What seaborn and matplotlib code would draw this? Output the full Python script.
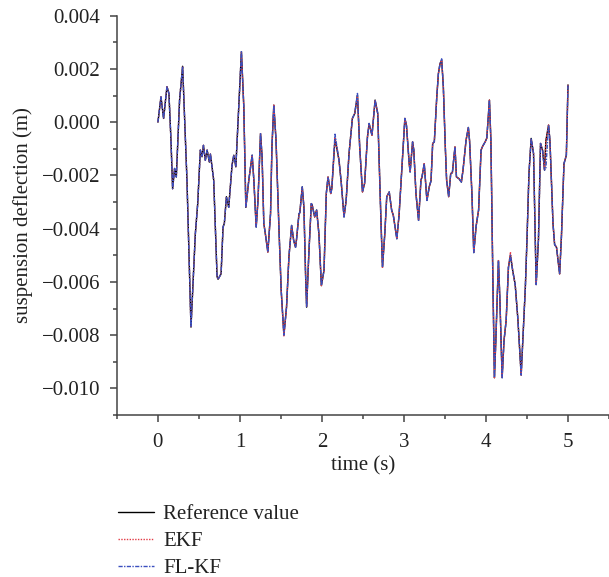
import matplotlib
matplotlib.use("Agg")
import matplotlib.pyplot as plt
from matplotlib.ticker import MultipleLocator, FuncFormatter
import seaborn as sns
import pandas as pd

# time samples (s)
time_s = [
    0.000, 0.037, 0.069, 0.110, 0.134, 0.159, 0.179, 0.203, 0.224, 0.264,
    0.301, 0.354, 0.403, 0.456, 0.485, 0.517, 0.538, 0.555, 0.578, 0.600,
    0.627, 0.640, 0.680, 0.721, 0.733, 0.770, 0.794, 0.810, 0.835, 0.863,
    0.904, 0.925, 0.950, 0.986, 1.018, 1.047, 1.072, 1.108, 1.149, 1.170,
    1.198, 1.220, 1.251, 1.270, 1.291, 1.310, 1.340, 1.373, 1.390, 1.413,
    1.440, 1.475, 1.503, 1.536, 1.568, 1.597, 1.630, 1.655, 1.678, 1.690,
    1.720, 1.730, 1.760, 1.780, 1.800, 1.813, 1.840, 1.870, 1.880, 1.911,
    1.935, 1.963, 1.993, 2.025, 2.053, 2.074, 2.107, 2.120, 2.159, 2.208,
    2.236, 2.269, 2.295, 2.330, 2.371, 2.400, 2.433, 2.460, 2.494, 2.520,
    2.555, 2.575, 2.610, 2.648, 2.680, 2.718, 2.738, 2.766, 2.790, 2.820,
    2.850, 2.870, 2.913, 2.940, 2.983, 3.011, 3.030, 3.064, 3.075, 3.105,
    3.120, 3.146, 3.178, 3.207, 3.220, 3.247, 3.280, 3.308, 3.330, 3.350,
    3.370, 3.400, 3.420, 3.440, 3.460, 3.480, 3.504, 3.520, 3.545, 3.570,
    3.590, 3.622, 3.640, 3.670, 3.700, 3.720, 3.757, 3.785, 3.800, 3.830,
    3.851, 3.880, 3.910, 3.940, 3.960, 3.990, 4.010, 4.042, 4.060, 4.083,
    4.103, 4.120, 4.152, 4.170, 4.197, 4.220, 4.246, 4.274, 4.298, 4.327,
    4.356, 4.389, 4.429, 4.457, 4.480, 4.500, 4.524, 4.551, 4.580, 4.612,
    4.640, 4.665, 4.690, 4.714, 4.730, 4.763, 4.780, 4.817, 4.837, 4.860,
    4.898, 4.920, 4.951, 4.980, 5.000,
]

# true suspension deflection (m)
reference_value = [
    0.00000, 0.00095, 0.00014, 0.00133, 0.00108, -0.00068, -0.00250, -0.00174, -0.00206, 0.00083,
    0.00210, -0.00218, -0.00770, -0.00420, -0.00306, -0.00105, -0.00130, -0.00087, -0.00143, -0.00105,
    -0.00150, -0.00120, -0.00218, -0.00580, -0.00590, -0.00570, -0.00394, -0.00380, -0.00280, -0.00320,
    -0.00160, -0.00124, -0.00168, 0.00060, 0.00265, 0.00058, -0.00320, -0.00218, -0.00124, -0.00220,
    -0.00394, -0.00294, -0.00043, -0.00130, -0.00380, -0.00420, -0.00488, -0.00344, -0.00093, 0.00064,
    -0.00068, -0.00394, -0.00632, -0.00800, -0.00695, -0.00507, -0.00388, -0.00444, -0.00470, -0.00440,
    -0.00344, -0.00340, -0.00243, -0.00320, -0.00570, -0.00695, -0.00494, -0.00306, -0.00310, -0.00356,
    -0.00330, -0.00420, -0.00614, -0.00557, -0.00268, -0.00206, -0.00268, -0.00250, -0.00061, -0.00143,
    -0.00230, -0.00356, -0.00294, -0.00118, 0.00014, 0.00033, 0.00102, -0.00093, -0.00262, -0.00230,
    -0.00055, -0.00005, -0.00049, 0.00083, 0.00033, -0.00356, -0.00545, -0.00420, -0.00280, -0.00262,
    -0.00331, -0.00350, -0.00438, -0.00350, -0.00130, 0.00014, -0.00011, -0.00156, -0.00187, -0.00074,
    -0.00105, -0.00268, -0.00369, -0.00218, -0.00206, -0.00156, -0.00294, -0.00243, -0.00220, -0.00080,
    -0.00074, 0.00095, 0.00183, 0.00220, 0.00233, 0.00133, -0.00093, -0.00218, -0.00280, -0.00193,
    -0.00190, -0.00093, -0.00206, -0.00212, -0.00225, -0.00180, -0.00068, -0.00020, -0.00070, -0.00280,
    -0.00490, -0.00390, -0.00330, -0.00105, -0.00090, -0.00074, -0.00060, 0.00083, -0.00070, -0.00570,
    -0.00960, -0.00820, -0.00520, -0.00670, -0.00960, -0.00820, -0.00745, -0.00545, -0.00500, -0.00560,
    -0.00610, -0.00740, -0.00950, -0.00770, -0.00620, -0.00440, -0.00193, -0.00061, -0.00118, -0.00610,
    -0.00440, -0.00080, -0.00105, -0.00180, -0.00070, -0.00011, -0.00070, -0.00380, -0.00460, -0.00470,
    -0.00570, -0.00430, -0.00156, -0.00124, 0.00140,
]

# extended Kalman filter estimate (m)
ekf = list(reference_value)
ekf[34] = 0.00262
ekf[53] = -0.00805
ekf[86] = 0.00098
ekf[158] = -0.00488

# fuzzy-logic Kalman filter estimate (m)
fl_kf = list(reference_value)
fl_kf[78] = -0.00045
fl_kf[86] = 0.00108
fl_kf[124] = 0.00238
fl_kf[174] = -0.00175

sns.set_theme(style="ticks")
plt.rcParams["font.family"] = ["Liberation Serif", "DejaVu Serif"]

FS = 15
INK = "#222222"
AXC = "#444444"

fig = plt.figure(figsize=(6.09, 5.77), dpi=100)
ax = fig.add_axes([0.192, 0.2808, 0.808, 0.692])

df = pd.DataFrame({"t": time_s, "ref": reference_value, "ekf": ekf, "flkf": fl_kf})

sns.lineplot(data=df, x="t", y="ref", ax=ax, color="black", linewidth=1.0,
             label="Reference value", sort=False)
sns.lineplot(data=df, x="t", y="ekf", ax=ax, color="#e23a45", linewidth=1.0,
             linestyle=(0, (1, 1)), label="EKF", sort=False)
sns.lineplot(data=df, x="t", y="flkf", ax=ax, color="#3b4fbf", linewidth=1.0,
             linestyle=(0, (3, 1, 1, 1)), label="FL-KF", sort=False)

ax.set_xlim(-0.5, 5.5)
ax.set_ylim(-0.011, 0.004)
ax.xaxis.set_major_locator(MultipleLocator(1))
ax.xaxis.set_minor_locator(MultipleLocator(0.5))
ax.yaxis.set_major_locator(MultipleLocator(0.002))
ax.yaxis.set_minor_locator(MultipleLocator(0.001))
ax.yaxis.set_major_formatter(
    FuncFormatter(lambda v, _: f"{v:.3f}".replace("-", "\u2212") if abs(v) > 1e-9 else "0.000"))

for side in ("top", "right"):
    ax.spines[side].set_visible(False)
for side in ("left", "bottom"):
    ax.spines[side].set_color(AXC)
    ax.spines[side].set_linewidth(1.1)

ax.tick_params(axis="both", which="major", direction="out", length=5, width=1.1,
               color=AXC, labelsize=FS, labelcolor=INK)
ax.tick_params(axis="x", which="major", pad=8)
ax.tick_params(axis="y", which="major", pad=7)
ax.tick_params(axis="both", which="minor", direction="out", length=3, width=1.1,
               color=AXC)

ax.set_xlabel("time (s)", fontsize=FS, color=INK, labelpad=3)
ax.set_ylabel("suspension deflection (m)", fontsize=FS, color=INK, labelpad=6)

ax.get_legend().remove()
handles, labels = ax.get_legend_handles_labels()
fig.legend(handles, labels, loc="upper left", bbox_to_anchor=(0.194, 0.126),
           frameon=False, fontsize=FS, handlelength=1.7, handletextpad=0.45,
           labelspacing=0.36, borderaxespad=0.0, borderpad=0.0,
           labelcolor=INK)

fig.savefig("out.png", dpi=100)
